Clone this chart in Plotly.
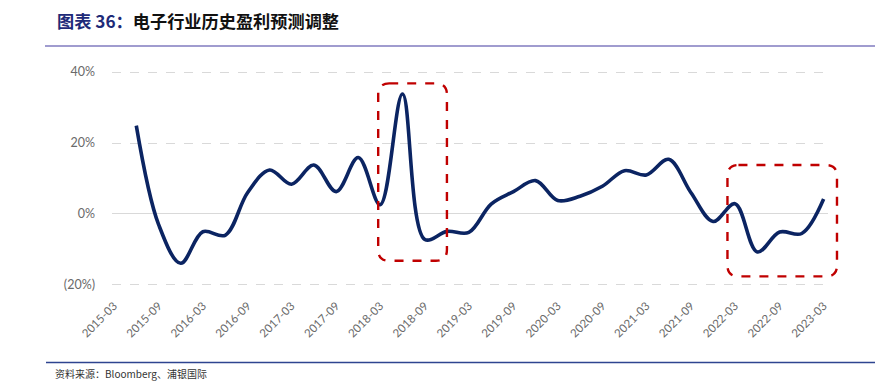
import plotly.graph_objects as go
import pandas as pd

# ---------------- data ----------------
dates = ["2015-06", "2015-09", "2015-12", "2016-03", "2016-06", "2016-09", "2016-12",
         "2017-03", "2017-06", "2017-09", "2017-12", "2018-03", "2018-06", "2018-09",
         "2018-12", "2019-03", "2019-06", "2019-09", "2019-12", "2020-03", "2020-06",
         "2020-09", "2020-12", "2021-03", "2021-06", "2021-09", "2021-12", "2022-03",
         "2022-06", "2022-09", "2022-12", "2023-03"]
values = [24.9, -3.0, -13.9, -5.0, -6.0, 6.0, 12.4,
          8.4, 13.8, 6.3, 15.9, 2.6, 33.8, -7.2,
          -4.9, -5.2, 2.8, 6.3, 9.4, 3.8, 5.0,
          7.8, 12.2, 11.0, 15.4, 6.0, -2.1, 2.9,
          -10.7, -5.1, -5.5, 4.2]

tick_labels = ["2015-03", "2015-09", "2016-03", "2016-09", "2017-03", "2017-09",
               "2018-03", "2018-09", "2019-03", "2019-09", "2020-03", "2020-09",
               "2021-03", "2021-09", "2022-03", "2022-09", "2023-03"]
y_tickvals = [-20, 0, 20, 40]
y_ticktext = ["(20%)", "0%", "20%", "40%"]

# highlight boxes: [x_start, x_end, y_bottom, y_top]
box1 = ["2018-02-21", "2018-12-01", -13.2, 36.8]
box2 = ["2022-01-29", "2023-04-25", -17.6, 13.8]

title_prefix = "图表 36："
title_main = "电子行业历史盈利预测调整"
source_text = "资料来源：Bloomberg、浦银国际"

# ---------------- layout constants ----------------
OFF = 8  # page body margin offset
WIN_W, WIN_H = 883, 382
W, H = WIN_W - OFF, WIN_H - OFF
PLOT_L, PLOT_R, PLOT_T, PLOT_B = 112, 828, 71, 286  # window px
ML, MT = PLOT_L - OFF, PLOT_T - OFF
MR, MB = WIN_W - PLOT_R, WIN_H - PLOT_B
PW, PH = W - ML - MR, H - MT - MB
x_range = ["2015-02-21", "2023-03-19"]
y_range = [-20.3, 40.3]

x_dates = pd.to_datetime([d + "-01" for d in dates])
tick_dates = pd.to_datetime([t + "-01" for t in tick_labels])

fig = go.Figure()
fig.add_trace(go.Scatter(
    x=x_dates, y=values, mode="lines",
    line=dict(color="#0B2462", width=3.6, shape="spline", smoothing=1.0),
    hoverinfo="skip", showlegend=False,
))

# rounded dashed boxes (in paper coords so they are not clipped by the plot area)
xr0, xr1 = pd.Timestamp(x_range[0]), pd.Timestamp(x_range[1])


def date_to_paper(d):
    return (pd.Timestamp(d) - xr0) / (xr1 - xr0)


def val_to_paper(v):
    return (v - y_range[0]) / (y_range[1] - y_range[0])


R = 11  # corner radius in px


def rounded_path(b):
    x0, x1 = date_to_paper(b[0]), date_to_paper(b[1])
    y0, y1 = val_to_paper(b[2]), val_to_paper(b[3])
    dx, dy = R / PW, R / PH
    return (f"M {x0 + dx},{y1} L {x1 - dx},{y1} Q {x1},{y1} {x1},{y1 - dy} "
            f"L {x1},{y0 + dy} Q {x1},{y0} {x1 - dx},{y0} "
            f"L {x0 + dx},{y0} Q {x0},{y0} {x0},{y0 + dy} "
            f"L {x0},{y1 - dy} Q {x0},{y1} {x0 + dx},{y1} Z")


for b in (box1, box2):
    fig.add_shape(type="path", xref="paper", yref="paper", path=rounded_path(b),
                  line=dict(color="#C00000", width=2.4, dash="dash"),
                  fillcolor="rgba(0,0,0,0)", layer="above")


def px_x(p):  # window px -> paper
    return (p - OFF - ML) / PW


def px_y(p):
    return (H - MB - (p - OFF)) / PH


# header / footer rules
fig.add_shape(type="line", xref="paper", yref="paper",
              x0=px_x(45), x1=px_x(879), y0=px_y(46), y1=px_y(46),
              line=dict(color="#A09CCF", width=2))
fig.add_shape(type="line", xref="paper", yref="paper",
              x0=px_x(46), x1=px_x(881), y0=px_y(362.5), y1=px_y(362.5),
              line=dict(color="#2E4490", width=1.5))

fig.add_annotation(
    xref="paper", yref="paper", x=px_x(56), y=px_y(20.5), xanchor="left", yanchor="middle",
    showarrow=False, borderpad=0,
    text=f"<b><span style='color:#1E2A78'>{title_prefix}</span>{title_main}</b>",
    font=dict(family="Noto Sans CJK SC", size=17.2, color="#111111"),
)
fig.add_annotation(
    xref="paper", yref="paper", x=px_x(54), y=px_y(373), xanchor="left", yanchor="middle",
    showarrow=False, borderpad=0, text=source_text,
    font=dict(family="Noto Sans CJK SC", size=10, color="#333333"),
)

fig.update_layout(
    width=W, height=H,
    margin=dict(l=ML, r=MR, t=MT, b=MB, pad=0),
    paper_bgcolor="white", plot_bgcolor="white",
    font=dict(family="Lato, Noto Sans CJK SC", color="#595959"),
    xaxis=dict(
        type="date", range=x_range,
        tickvals=tick_dates, ticktext=tick_labels, tickangle=-45,
        tickfont=dict(size=11.5, color="#6A6A6A"),
        showgrid=False, zeroline=False, showline=False, ticks="",
        ticklabelstandoff=10,
    ),
    yaxis=dict(
        range=y_range, tickvals=y_tickvals, ticktext=y_ticktext,
        tickfont=dict(size=12.5, color="#6A6A6A"),
        showgrid=True, gridcolor="#D9D9D9", griddash="dash", gridwidth=1,
        zeroline=True, zerolinecolor="#D9D9D9", zerolinewidth=1.2,
        showline=False, ticks="", ticklabelstandoff=16,
    ),
)

fig.write_html("out.html")
